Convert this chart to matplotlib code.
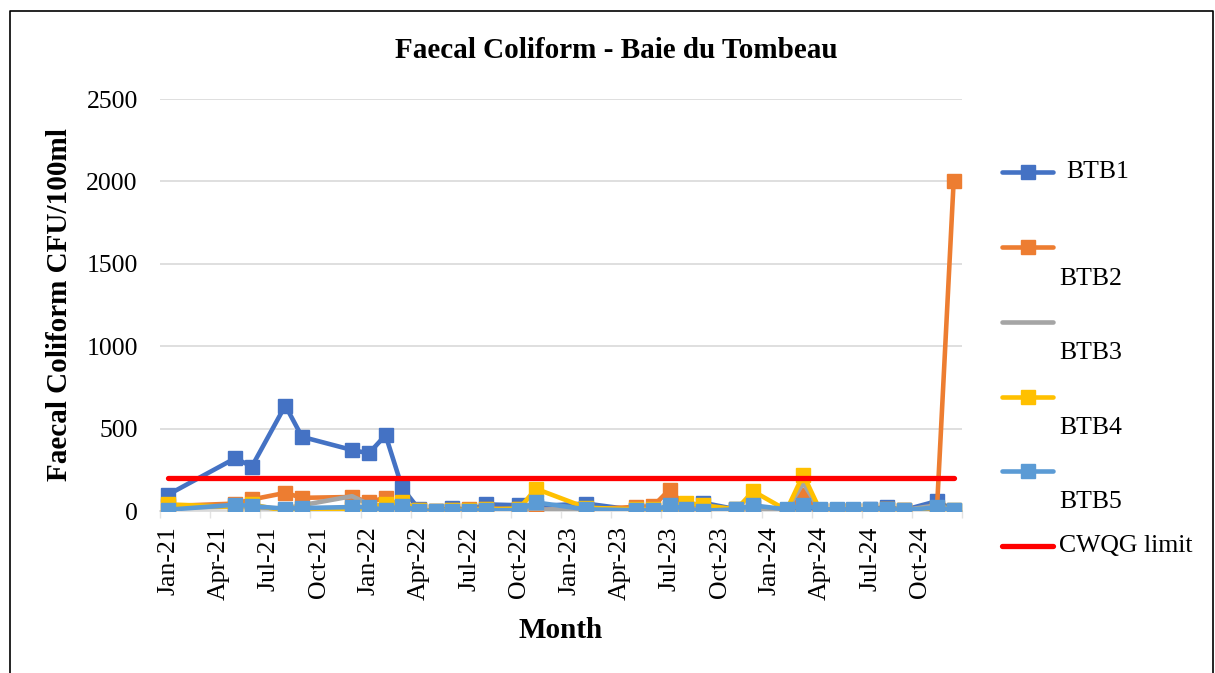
import matplotlib
matplotlib.use("Agg")
import matplotlib.pyplot as plt
from matplotlib.lines import Line2D
import numpy as np

# ---------------- data ----------------
dates = ["2021-01", "2021-05", "2021-06", "2021-08", "2021-09", "2021-12",
         "2022-01", "2022-02", "2022-03", "2022-04", "2022-05", "2022-06",
         "2022-07", "2022-08", "2022-10", "2022-11", "2023-02", "2023-05",
         "2023-06", "2023-07", "2023-08", "2023-09", "2023-11", "2023-12",
         "2024-02", "2024-03", "2024-04", "2024-05", "2024-06", "2024-07",
         "2024-08", "2024-09", "2024-11", "2024-12"]

btb1 = [100, 320, 270, 640, 450, 370, 350, 460, 140, 10, 0, 20, 5, 40, 35, 30, 45,
        5, 5, 20, 15, 50, 10, 30, 5, 30, 5, 5, 5, 10, 25, 5, 60, 5]
btb2 = [30, 45, 70, 110, 80, 85, 55, 80, 20, 5, 0, 5, 10, 15, 10, 5, 10,
        25, 28, 130, 20, 10, 5, 25, 5, 95, 5, 5, 5, 5, 10, 5, 10, 2000]
btb3 = [20, 25, 20, 15, 35, 90, 40, 30, 15, 5, 0, 5, 5, 10, 10, 10, 5,
        10, 10, 20, 15, 10, 5, 15, 5, 170, 5, 5, 5, 5, 10, 5, 35, 5]
btb4 = [40, 25, 40, 0, 10, 10, 20, 45, 55, 5, 0, 5, 5, 10, 15, 135, 20,
        10, 10, 20, 50, 35, 10, 120, 5, 220, 5, 5, 5, 5, 15, 5, 20, 5]
btb5 = [8, 38, 30, 14, 18, 24, 24, 5, 32, 0, 0, 2, 2, 5, 5, 52, 10,
        5, 5, 34, 12, 2, 10, 34, 10, 36, 10, 10, 10, 10, 15, 5, 22, 5]
cwqg_limit = 200

tick_labels = ["Jan-21", "Apr-21", "Jul-21", "Oct-21", "Jan-22", "Apr-22",
               "Jul-22", "Oct-22", "Jan-23", "Apr-23", "Jul-23", "Oct-23",
               "Jan-24", "Apr-24", "Jul-24", "Oct-24"]

series_names = ["BTB1", "BTB2", "BTB3", "BTB4", "BTB5"]
series_vals = [btb1, btb2, btb3, btb4, btb5]
colors = ["#4472C4", "#ED7D31", "#A5A5A5", "#FFC000", "#5B9BD5"]
has_marker = [True, True, False, True, True]

# ---------------- helpers ----------------
def month_index(s):
    y, m = s.split("-")
    return (int(y) - 2021) * 12 + int(m) - 1

x = np.array([month_index(d) for d in dates])

plt.rcParams["font.family"] = ["Liberation Serif", "DejaVu Serif"]

W, H = 1215, 673
fig = plt.figure(figsize=(W / 100, H / 100), dpi=100)
ax = fig.add_axes([160 / W, 1 - 511 / H, (962 - 160) / W, (511 - 99) / H])

lw = 3.3
ms = 10
for name, vals, col, mk in zip(series_names, series_vals, colors, has_marker):
    ax.plot(x, vals, color=col, lw=lw, marker="s" if mk else None,
            ms=ms, mew=1, mec=col, mfc=col,
            solid_joinstyle="round", solid_capstyle="round", zorder=3)

ax.plot([x.min(), x.max()], [cwqg_limit, cwqg_limit], color="#FF0000", lw=3.8,
        solid_capstyle="round", zorder=4)

ax.set_xlim(-0.5, 47.5)
ax.set_ylim(0, 2500)
ax.set_yticks(np.arange(0, 2501, 500))
ax.set_xticks(np.arange(0, 48, 3))
ax.set_xticklabels(tick_labels, rotation=90, fontsize=18.5)
ax.set_xticks(np.arange(-0.5, 48, 3), minor=True)
ax.tick_params(axis="x", which="major", length=0, pad=11)
ax.tick_params(axis="x", which="minor", length=5, color="#E3E3E3", width=1)
ax.tick_params(axis="y", length=0, pad=16, labelsize=18.5)

ax.grid(axis="y", color="#D9D9D9", lw=1.2, zorder=0)
for s in ["top", "right", "left"]:
    ax.spines[s].set_visible(False)
ax.spines["bottom"].set_color("#D9D9D9")
ax.spines["bottom"].set_linewidth(1.2)
ax.set_axisbelow(True)

# titles
fig.text(616 / W, 1 - 50 / H, "Faecal Coliform - Baie du Tombeau", ha="center",
         va="center", fontsize=21, fontweight="bold")
fig.text(561 / W, 1 - 631 / H, "Month", ha="center", va="center",
         fontsize=21, fontweight="bold")
fig.text(60 / W, 1 - 305 / H, "Faecal Coliform CFU/100ml", ha="center",
         va="center", rotation=90, fontsize=21, fontweight="bold")

# legend (manual, Excel-like layout)
leg_line_y = [172, 247, 322, 397, 471]
leg_text_y = [172, 279, 353, 428, 502]
leg_text_x = [1066, 1059, 1059, 1059, 1059]
for name, col, mk, ly, ty, tx in zip(series_names, colors, has_marker,
                                     leg_line_y, leg_text_y, leg_text_x):
    fig.add_artist(Line2D([1002 / W, 1053 / W], [1 - ly / H, 1 - ly / H],
                          transform=fig.transFigure, color=col, lw=lw,
                          solid_capstyle="round"))
    if mk:
        fig.add_artist(Line2D([1028 / W], [1 - ly / H], transform=fig.transFigure,
                              marker="s", ms=ms, mew=1, mec=col, mfc=col,
                              linestyle="none"))
    fig.text(tx / W, 1 - ty / H, name, ha="left", va="center", fontsize=18.5)
fig.add_artist(Line2D([1002 / W, 1053 / W], [1 - 546 / H, 1 - 546 / H],
                      transform=fig.transFigure, color="#FF0000", lw=3.8,
                      solid_capstyle="round"))
fig.text(1059 / W, 1 - 546 / H, "CWQG limit", ha="left", va="center", fontsize=18.5)

# outer border
bx0, by0, bx1 = 10 / W, 1 - 11 / H, 1213 / W
fig.add_artist(Line2D([bx0, bx0, bx1, bx1], [0, by0, by0, 0],
                      transform=fig.transFigure, color="black", lw=1.2))

fig.savefig("out.png", dpi=100)
